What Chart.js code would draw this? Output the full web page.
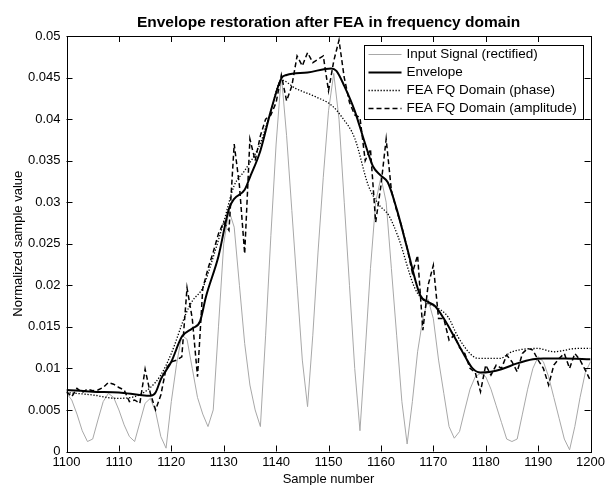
<!DOCTYPE html>
<html>
<head>
<meta charset="utf-8">
<script src="https://cdn.jsdelivr.net/npm/chart.js@4"></script>
<style>
  body { margin: 0; background: #fff; }
</style>
</head>
<body>
<canvas id="c" width="608" height="485"></canvas>
<script>
// sample numbers for the per-sample series
var samples = [];
for (var s = 1100; s <= 1200; s++) samples.push(s);

// rectified input signal, one value per sample
var inputSignal = [
  0.0070, 0.0062, 0.0045, 0.0025, 0.0012, 0.0015, 0.0038, 0.0060, 0.0070, 0.0065,
  0.0050, 0.0032, 0.0018, 0.0012, 0.0035, 0.0058, 0.0064, 0.0048, 0.0018, 0.0004,
  0.0060, 0.0105, 0.0140, 0.0135, 0.0100, 0.0065, 0.0045, 0.0030, 0.0050, 0.0150,
  0.0250, 0.0290, 0.0270, 0.0200, 0.0130, 0.0080, 0.0050, 0.0030, 0.0140, 0.0260,
  0.0370, 0.0453, 0.0380, 0.0290, 0.0200, 0.0110, 0.0054, 0.0140, 0.0240, 0.0330,
  0.0410, 0.0455, 0.0400, 0.0300, 0.0200, 0.0100, 0.0025, 0.0120, 0.0220, 0.0300,
  0.0330, 0.0300, 0.0220, 0.0140, 0.0060, 0.0009, 0.0060, 0.0120, 0.0160, 0.0183,
  0.0160, 0.0110, 0.0070, 0.0030, 0.0016, 0.0024, 0.0050, 0.0075, 0.0090, 0.0094,
  0.0090, 0.0075, 0.0055, 0.0035, 0.0015, 0.0012, 0.0015, 0.0045, 0.0075, 0.0100,
  0.0114, 0.0108, 0.0090, 0.0065, 0.0040, 0.0015, 0.0002, 0.0030, 0.0065, 0.0095,
  0.0108
];

// FEA FQ domain (amplitude), one value per sample
var feaAmplitude = [
  0.0072, 0.0066, 0.0076, 0.0071, 0.0075, 0.0073, 0.0074, 0.0077, 0.0083, 0.0081,
  0.0077, 0.0074, 0.0060, 0.0062, 0.0058, 0.0099, 0.0070, 0.0050, 0.0068, 0.0100,
  0.0108, 0.0110, 0.0114, 0.0197, 0.0160, 0.0090, 0.0196, 0.0220, 0.0240, 0.0262,
  0.0276, 0.0266, 0.0370, 0.0320, 0.0238, 0.0376, 0.0350, 0.0380, 0.0400, 0.0405,
  0.0420, 0.0453, 0.0422, 0.0440, 0.0476, 0.0464, 0.0480, 0.0468, 0.0472, 0.0476,
  0.0434, 0.0470, 0.0495, 0.0450, 0.0420, 0.0405, 0.0402, 0.0350, 0.0364, 0.0276,
  0.0320, 0.0376, 0.0314, 0.0290, 0.0270, 0.0245, 0.0215, 0.0236, 0.0146, 0.0200,
  0.0224, 0.0160, 0.0160, 0.0134, 0.0140, 0.0125, 0.0118, 0.0100, 0.0095, 0.0072,
  0.0104, 0.0092, 0.0104, 0.0100, 0.0116, 0.0108, 0.0096, 0.0118, 0.0124, 0.0122,
  0.0110, 0.0100, 0.0080, 0.0104, 0.0112, 0.0118, 0.0100, 0.0118, 0.0110, 0.0098,
  0.0085
];

// envelope, read at points along the curve
var envelopeX = [1100, 1105, 1110, 1114, 1116, 1117, 1118, 1120, 1122, 1124, 1125.5, 1126.6,
  1129, 1131, 1132, 1134, 1135, 1137, 1139, 1141, 1142, 1146, 1150.5, 1151.5, 1153, 1155,
  1157, 1158.5, 1160, 1161.3, 1163, 1165, 1167.5, 1169, 1170.3, 1172, 1174, 1176, 1177.5,
  1179, 1181, 1183, 1186, 1189, 1191, 1195, 1200];
var envelopeY = [0.0074, 0.0072, 0.0071, 0.0068, 0.0067, 0.0071, 0.0087, 0.0108, 0.0138, 0.0148, 0.0157, 0.0186,
  0.0235, 0.0292, 0.0304, 0.0315, 0.0330, 0.0362, 0.0410, 0.0449, 0.0453, 0.0456, 0.0461, 0.0458, 0.0440, 0.0410,
  0.0370, 0.0343, 0.0332, 0.0324, 0.0292, 0.0245, 0.0188, 0.0180, 0.0175, 0.0160, 0.0138, 0.0115, 0.0100,
  0.0095, 0.0096, 0.0099, 0.0106, 0.0111, 0.0112, 0.0112, 0.0111];

// FEA FQ domain (phase)
var phaseX = [1100, 1105, 1109.5, 1113, 1116, 1118, 1120, 1122.8, 1124, 1126, 1128, 1130, 1132,
  1134, 1137, 1139, 1141, 1143.7, 1147.5, 1150.7, 1152.6, 1155, 1157.6, 1159.5, 1161.5, 1163.3,
  1166.5, 1168.5, 1170.5, 1172.8, 1174.7, 1177.3, 1178.6, 1182.7, 1185, 1190, 1193, 1197.5, 1200];
var phaseY = [0.0071, 0.0068, 0.0064, 0.0066, 0.0077, 0.0092, 0.0118, 0.0166, 0.0181, 0.0197, 0.0234, 0.0276, 0.0320,
  0.0338, 0.0371, 0.0410, 0.0447, 0.0437, 0.0427, 0.0416, 0.0402, 0.0377, 0.0320, 0.0298, 0.0284, 0.0258,
  0.0196, 0.0180, 0.0174, 0.0162, 0.0138, 0.0116, 0.0112, 0.0112, 0.0120, 0.0124, 0.0120, 0.0124, 0.0124];

var xTicks = [1100, 1110, 1120, 1130, 1140, 1150, 1160, 1170, 1180, 1190, 1200];
var yTicks = [0, 0.005, 0.01, 0.015, 0.02, 0.025, 0.03, 0.035, 0.04, 0.045, 0.05];

var titleText = 'Envelope restoration after FEA in frequency domain';

function pairs(xs, ys) {
  return xs.map(function (x, i) { return { x: x, y: ys[i] }; });
}

var FONT = '"Liberation Sans", Arial, sans-serif';
Chart.defaults.font.family = FONT;
Chart.defaults.font.size = 13;
Chart.defaults.color = '#000';

// matlab style box with inward ticks, title over the axes, legend inside
var boxPlugin = {
  id: 'box',
  afterDatasetsDraw: function (chart) {
    var ctx = chart.ctx, a = chart.chartArea;
    var xs = chart.scales.x, ys = chart.scales.y;
    var L = 6;
    ctx.save();
    ctx.strokeStyle = '#000';
    ctx.lineWidth = 1;
    ctx.beginPath();
    xTicks.forEach(function (t) {
      var px = Math.round(xs.getPixelForValue(t)) + 0.5;
      ctx.moveTo(px, a.bottom); ctx.lineTo(px, a.bottom - L);
      ctx.moveTo(px, a.top); ctx.lineTo(px, a.top + L);
    });
    yTicks.forEach(function (t) {
      var py = Math.round(ys.getPixelForValue(t)) + 0.5;
      ctx.moveTo(a.left, py); ctx.lineTo(a.left + L, py);
      ctx.moveTo(a.right, py); ctx.lineTo(a.right - L, py);
    });
    ctx.stroke();
    ctx.strokeRect(Math.round(a.left) + 0.5, Math.round(a.top) + 0.5,
      Math.round(a.right - a.left), Math.round(a.bottom - a.top));

    // title
    ctx.fillStyle = '#000';
    ctx.font = 'bold 15.5px ' + FONT;
    ctx.textAlign = 'center';
    ctx.textBaseline = 'alphabetic';
    ctx.fillText(titleText, (a.left + a.right) / 2, 27);

    // legend
    var bx = 364.5, by = 45.5, bw = 219, bh = 74;
    ctx.fillStyle = '#fff';
    ctx.fillRect(bx, by, bw, bh);
    ctx.strokeRect(bx, by, bw, bh);
    ctx.font = '13.5px ' + FONT;
    ctx.textAlign = 'left';
    ctx.textBaseline = 'middle';
    chart.data.datasets.forEach(function (d, i) {
      var y = by + 8 + i * 18;
      ctx.save();
      ctx.strokeStyle = d.borderColor;
      ctx.lineWidth = d.borderWidth;
      ctx.setLineDash(d.borderDash || []);
      ctx.beginPath();
      ctx.moveTo(bx + 4, Math.round(y) + 0.5);
      ctx.lineTo(bx + 37, Math.round(y) + 0.5);
      ctx.stroke();
      ctx.restore();
      ctx.fillStyle = '#000';
      ctx.fillText(d.label, bx + 42, y + 1);
    });
    ctx.restore();
  }
};

new Chart(document.getElementById('c'), {
  type: 'line',
  data: {
    datasets: [{
      label: 'Input Signal (rectified)',
      data: pairs(samples, inputSignal),
      borderColor: '#a8a8a8',
      borderWidth: 1,
      order: 4
    }, {
      label: 'Envelope',
      data: pairs(envelopeX, envelopeY),
      borderColor: '#000',
      borderWidth: 2,
      cubicInterpolationMode: 'monotone',
      order: 1
    }, {
      label: 'FEA FQ Domain (phase)',
      data: pairs(phaseX, phaseY),
      borderColor: '#000',
      borderWidth: 1.3,
      borderDash: [1.3, 1.7],
      cubicInterpolationMode: 'monotone',
      order: 2
    }, {
      label: 'FEA FQ Domain (amplitude)',
      data: pairs(samples, feaAmplitude),
      borderColor: '#000',
      borderWidth: 1.5,
      borderDash: [5, 3],
      order: 3
    }]
  },
  options: {
    responsive: false,
    devicePixelRatio: 1,
    animation: false,
    elements: { point: { radius: 0 }, line: { tension: 0 } },
    layout: { padding: { left: 0, right: 15, top: 36, bottom: 0 } },
    plugins: {
      legend: { display: false },
      tooltip: { enabled: false },
      title: { display: false }
    },
    scales: {
      x: {
        type: 'linear',
        min: 1100, max: 1200,
        afterBuildTicks: function (sc) { sc.ticks = xTicks.map(function (v) { return { value: v }; }); },
        afterFit: function (sc) { sc.height = 33.5; },
        grid: { display: false, drawTicks: false },
        border: { display: false },
        ticks: { padding: 3, maxRotation: 0, callback: function (v) { return String(v); } },
        title: { display: true, text: 'Sample number', padding: { top: 0, bottom: -2 } }
      },
      y: {
        type: 'linear',
        min: 0, max: 0.05,
        afterBuildTicks: function (sc) { sc.ticks = yTicks.map(function (v) { return { value: v }; }); },
        afterFit: function (sc) { sc.width = 66.5; },
        grid: { display: false, drawTicks: false },
        border: { display: false },
        ticks: {
          padding: 6,
          callback: function (v) { return String(+v.toFixed(4)); }
        },
        title: { display: true, text: 'Normalized sample value', padding: { top: 11, bottom: 0 } }
      }
    }
  },
  plugins: [boxPlugin]
});
</script>
</body>
</html>
